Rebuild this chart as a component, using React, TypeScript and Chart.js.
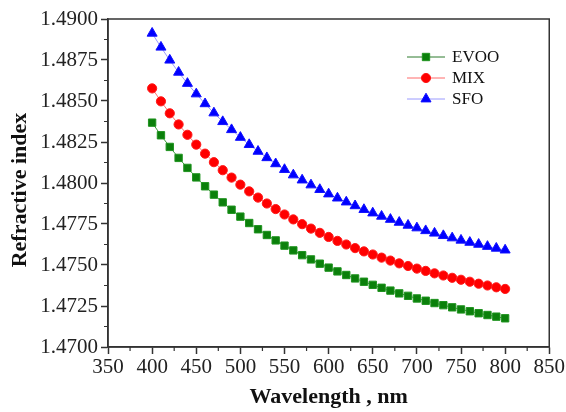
import React, { useEffect, useRef } from "react";
import { Chart, registerables } from "chart.js";
import { drawPoint } from "chart.js/helpers";

Chart.register(...registerables);

// ---- data ----
const wavelengths = [
  400, 410, 420, 430, 440, 450, 460, 470, 480, 490, 500, 510, 520, 530, 540, 550, 560, 570, 580, 590,
  600, 610, 620, 630, 640, 650, 660, 670, 680, 690, 700, 710, 720, 730, 740, 750, 760, 770, 780, 790, 800,
];

const evoo = [
  1.48368, 1.48291, 1.4822, 1.48153, 1.48092, 1.48034, 1.4798, 1.47929, 1.47882, 1.47837, 1.47795,
  1.47756, 1.47718, 1.47683, 1.4765, 1.47618, 1.47589, 1.4756, 1.47534, 1.47508, 1.47484, 1.47461,
  1.47439, 1.47418, 1.47398, 1.47379, 1.47361, 1.47344, 1.47327, 1.47312, 1.47296, 1.47282, 1.47268,
  1.47255, 1.47242, 1.47229, 1.47218, 1.47206, 1.47195, 1.47185, 1.47175,
];

const mix = [
  1.48577, 1.48498, 1.48425, 1.48357, 1.48294, 1.48234, 1.48179, 1.48127, 1.48078, 1.48033, 1.4799,
  1.47949, 1.47911, 1.47875, 1.47841, 1.47808, 1.47778, 1.47749, 1.47722, 1.47696, 1.47671, 1.47647,
  1.47625, 1.47603, 1.47583, 1.47564, 1.47545, 1.47527, 1.4751, 1.47494, 1.47478, 1.47464, 1.47449,
  1.47436, 1.47422, 1.4741, 1.47398, 1.47386, 1.47375, 1.47364, 1.47354,
];

const sfo = [
  1.48913, 1.48828, 1.48749, 1.48675, 1.48607, 1.48543, 1.48483, 1.48427, 1.48374, 1.48325, 1.48278,
  1.48234, 1.48193, 1.48154, 1.48117, 1.48082, 1.48049, 1.48018, 1.47988, 1.4796, 1.47933, 1.47908,
  1.47884, 1.47861, 1.47838, 1.47817, 1.47797, 1.47778, 1.4776, 1.47742, 1.47726, 1.47709, 1.47694,
  1.47679, 1.47665, 1.47651, 1.47638, 1.47626, 1.47613, 1.47602, 1.47591,
];

const seriesNames = ["EVOO", "MIX", "SFO"];

const xTicks = [350, 400, 450, 500, 550, 600, 650, 700, 750, 800, 850];
const xMinorTicks = [375, 425, 475, 525, 575, 625, 675, 725, 775, 825];
const yTicks = [1.47, 1.4725, 1.475, 1.4775, 1.48, 1.4825, 1.485, 1.4875, 1.49];
const yMinorTicks = [1.47125, 1.47375, 1.47625, 1.47875, 1.48125, 1.48375, 1.48625, 1.48875];

const xTitle = "Wavelength , nm";
const yTitle = "Refractive index";

// ---- styles ----
const SERIF = "'Liberation Serif', 'Times New Roman', 'DejaVu Serif', serif";
const AXIS = "#333333";

const styles = [
  { fill: "#0b800b", border: "#1f931f", line: "#3c9a3c", legendLine: "#2c7a2c", pointStyle: "rect", radius: 5.2 },
  { fill: "#ff0000", border: "#ff1a1a", line: "#ff7070", legendLine: "#ff6a6a", pointStyle: "circle", radius: 4.6 },
  { fill: "#0000ff", border: "#1010ff", line: "#9a9aff", legendLine: "#9a9aff", pointStyle: "triangle", radius: 5.8 },
];

const seriesValues = [evoo, mix, sfo];

const extrasPlugin = {
  id: "extras",
  afterDraw(chart: any) {
    const { ctx, chartArea: a, scales } = chart;
    ctx.save();
    // frame
    ctx.strokeStyle = AXIS;
    ctx.lineWidth = 1.5;
    ctx.strokeRect(a.left, a.top, a.right - a.left, a.bottom - a.top);
    // minor ticks
    ctx.lineWidth = 1.2;
    ctx.beginPath();
    xMinorTicks.forEach((v) => {
      const x = scales.x.getPixelForValue(v);
      ctx.moveTo(x, a.bottom);
      ctx.lineTo(x, a.bottom + 4);
    });
    yMinorTicks.forEach((v) => {
      const y = scales.y.getPixelForValue(v);
      ctx.moveTo(a.left, y);
      ctx.lineTo(a.left - 4, y);
    });
    ctx.stroke();

    // y axis title
    ctx.save();
    ctx.translate(20, 190);
    ctx.rotate(-Math.PI / 2);
    ctx.font = `bold 22px ${SERIF}`;
    ctx.fillStyle = "#111";
    ctx.textAlign = "center";
    ctx.textBaseline = "middle";
    ctx.fillText(yTitle, 0, 0);
    ctx.restore();

    // legend
    const x0 = a.left + 299;
    const x1 = a.left + 337;
    const tx = a.left + 344;
    const rowY = [a.top + 38, a.top + 59, a.top + 80];
    ctx.font = `17px ${SERIF}`;
    ctx.textBaseline = "middle";
    ctx.textAlign = "left";
    seriesNames.forEach((name, i) => {
      const s = styles[i];
      const y = rowY[i];
      ctx.strokeStyle = s.legendLine;
      ctx.lineWidth = 1;
      ctx.beginPath();
      ctx.moveTo(x0, y);
      ctx.lineTo(x1, y);
      ctx.stroke();
      ctx.fillStyle = s.fill;
      ctx.strokeStyle = s.border;
      drawPoint(ctx, { pointStyle: s.pointStyle as any, radius: s.radius, rotation: 0, borderWidth: 1 }, (x0 + x1) / 2, y);
      ctx.fillStyle = "#111";
      ctx.fillText(name, tx, y + 1);
    });
    ctx.restore();
  },
};

export default function App() {
  const canvasRef = useRef<HTMLCanvasElement | null>(null);

  useEffect(() => {
    document.body.style.margin = "0";
    const canvas = canvasRef.current;
    if (!canvas) return;

    const datasets = seriesNames.map((name, i) => ({
      label: name,
      data: wavelengths.map((w, j) => ({ x: w, y: seriesValues[i][j] })),
      showLine: true,
      borderColor: styles[i].line,
      borderWidth: 1,
      backgroundColor: styles[i].fill,
      pointBackgroundColor: styles[i].fill,
      pointBorderColor: styles[i].border,
      pointBorderWidth: 1,
      pointStyle: styles[i].pointStyle,
      pointRadius: styles[i].radius,
      pointHoverRadius: styles[i].radius,
      fill: false,
      tension: 0,
    }));

    const chart = new Chart(canvas, {
      type: "scatter",
      data: { datasets } as any,
      plugins: [extrasPlugin],
      options: {
        animation: false,
        responsive: false,
        maintainAspectRatio: false,
        layout: { padding: { top: 19, right: 15, left: 0, bottom: 0 } },
        plugins: { legend: { display: false }, tooltip: { enabled: false } },
        scales: {
          x: {
            type: "linear",
            min: 350,
            max: 850,
            afterBuildTicks: (s: any) => {
              s.ticks = xTicks.map((v) => ({ value: v }));
            },
            afterFit: (s: any) => {
              s.height = 65;
            },
            ticks: {
              autoSkip: false,
              maxRotation: 0,
              padding: 1,
              color: "#222",
              font: { family: SERIF, size: 21 },
              callback: (v: any) => String(v),
            },
            grid: { display: true, drawOnChartArea: false, drawTicks: true, tickLength: 7, tickColor: AXIS, tickWidth: 1.5 },
            border: { display: true, color: AXIS, width: 1.5 },
            title: {
              display: true,
              text: xTitle,
              color: "#111",
              font: { family: SERIF, size: 22, weight: "bold" },
              padding: { top: 0, bottom: 1 },
            },
          },
          y: {
            type: "linear",
            min: 1.47,
            max: 1.49,
            afterBuildTicks: (s: any) => {
              s.ticks = yTicks.map((v) => ({ value: v }));
            },
            afterFit: (s: any) => {
              s.width = 108;
            },
            ticks: {
              autoSkip: false,
              padding: 3,
              color: "#222",
              font: { family: SERIF, size: 21 },
              callback: (v: any) => Number(v).toFixed(4),
            },
            grid: { display: true, drawOnChartArea: false, drawTicks: true, tickLength: 7, tickColor: AXIS, tickWidth: 1.5 },
            border: { display: true, color: AXIS, width: 1.5 },
            title: { display: false },
          },
        },
      } as any,
    });

    return () => chart.destroy();
  }, []);

  return (
    <div style={{ width: 566, height: 412, background: "#fff" }}>
      <canvas ref={canvasRef} width={566} height={412} style={{ display: "block" }} />
    </div>
  );
}
